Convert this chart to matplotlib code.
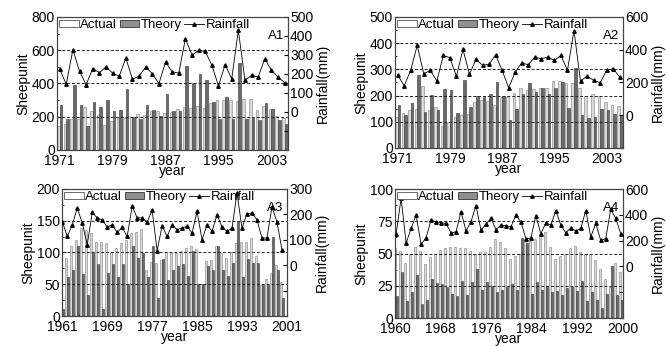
import matplotlib
matplotlib.use("Agg")
import matplotlib.pyplot as plt
import numpy as np
from matplotlib.ticker import MultipleLocator, FuncFormatter
from matplotlib.lines import Line2D
from matplotlib.patches import Patch

plt.rcParams['font.family'] = ['Liberation Sans', 'DejaVu Sans']
plt.rcParams['font.size'] = 9

# ---- A1 (1971-2005) ----
years_a1 = list(range(1971, 2006))
actual_a1 = [142, 155, 185, 185, 261, 232, 213, 150, 175, 193, 193, 201, 217, 210, 232, 232, 225, 230,
             245, 261, 250, 265, 255, 280, 300, 300, 300, 293, 305, 305, 241, 263, 245, 205, 195]
theory_a1 = [269, 185, 393, 269, 144, 289, 261, 300, 232, 241, 368, 201, 189, 269, 240, 205, 335, 235,
             232, 505, 403, 459, 419, 288, 185, 320, 185, 523, 185, 190, 180, 281, 245, 180, 155]
rain_a1 = [225, 146, 328, 214, 144, 228, 207, 237, 205, 188, 284, 172, 189, 237, 202, 149, 263, 211,
           205, 386, 298, 325, 319, 246, 137, 249, 175, 430, 167, 193, 184, 281, 219, 184, 154]

# ---- A2 (1971-2005) ----
years_a2 = list(range(1971, 2006))
actual_a2 = [120, 132, 145, 150, 235, 145, 155, 85, 100, 120, 125, 130, 175, 185, 180, 165, 195, 195,
             210, 228, 222, 225, 230, 228, 255, 255, 248, 248, 228, 200, 205, 200, 175, 165, 160]
theory_a2 = [163, 126, 170, 280, 136, 203, 145, 225, 220, 135, 260, 155, 200, 195, 205, 250, 200, 105,
             148, 205, 248, 215, 228, 205, 230, 252, 152, 305, 125, 115, 120, 150, 145, 130, 125]
rain_a2 = [247, 179, 274, 426, 253, 274, 209, 365, 351, 238, 402, 250, 341, 305, 311, 369, 274, 167,
           264, 320, 308, 355, 345, 355, 335, 365, 274, 517, 207, 240, 213, 199, 274, 284, 233]

# ---- A3 (1961-2001 axis) ----
actual_a3 = [94, 91, 110, 120, 138, 136, 130, 117, 117, 115, 99, 107, 115, 120, 130, 133, 137, 72, 85,
             83, 88, 101, 99, 99, 103, 107, 110, 105, 50, 86, 88, 110, 99, 91, 101, 115, 116, 117, 123,
             94, 49, 58, 67, 80, 53]
theory_a3 = [11, 61, 73, 110, 66, 33, 100, 82, 11, 67, 82, 62, 82, 50, 110, 91, 99, 62, 110,
             28, 89, 57, 73, 78, 82, 63, 102, 50, 50, 78, 73, 110, 73, 63, 83, 149, 62, 89, 83,
             83, 49, 49, 125, 73, 28]
rain_a3 = [172, 113, 159, 225, 166, 80, 208, 186, 179, 150, 159, 129, 149, 113, 232, 186, 186, 170, 216,
           57, 155, 113, 159, 140, 146, 153, 126, 212, 100, 159, 133, 199, 150, 133, 146, 284, 146, 203,
           205, 179, 107, 107, 229, 172, 61]

# ---- A4 (1960-2000 axis) ----
actual_a4 = [54, 52, 43, 50, 55, 52, 42, 47, 50, 53, 54, 55, 55, 54, 54, 52, 50, 51, 51, 55, 61, 59,
             54, 46, 48, 50, 61, 60, 61, 65, 67, 55, 46, 48, 50, 54, 56, 51, 50, 50, 45, 38, 30, 24,
             43, 36]
theory_a4 = [17, 36, 13, 20, 33, 11, 14, 30, 27, 26, 24, 19, 17, 29, 18, 28, 38, 22, 28, 25, 20, 22,
             24, 26, 22, 62, 58, 19, 28, 22, 24, 20, 21, 18, 23, 24, 21, 29, 13, 20, 14, 8, 19, 40,
             18, 14]
rain_a4 = [254, 529, 181, 294, 398, 171, 223, 359, 346, 338, 333, 260, 268, 425, 275, 346, 472, 281,
           328, 372, 286, 320, 315, 307, 398, 346, 215, 220, 393, 254, 338, 320, 433, 320, 260, 299,
           275, 294, 433, 228, 333, 202, 215, 443, 372, 254]

LIGHT = '#d9d9d9'
DARK = '#6a6a6a'

fig = plt.figure(figsize=(6.66, 3.46), dpi=100)


def panel(rect, x, bw, actual, theory, rain, ylim, ystep, rlim, rstep, xlim, xticks, tag):
    ax = fig.add_axes(rect)
    x = np.asarray(x, dtype=float)
    ax.bar(x - bw / 2, actual, width=bw, color=LIGHT, edgecolor='#808080', linewidth=0.4, zorder=2)
    ax.bar(x + bw / 2, theory, width=bw, color=DARK, edgecolor='#333333', linewidth=0.4, zorder=2)
    for g in np.arange(ystep, ylim[1], ystep):
        ax.axhline(g, color='#222222', ls=(0, (3, 2)), lw=0.7, zorder=3)
    ax.set_xlim(*xlim)
    ax.set_ylim(*ylim)
    ax.yaxis.set_major_locator(MultipleLocator(ystep))
    ax.yaxis.set_minor_locator(MultipleLocator(ystep / 2))
    ax.set_xticks(xticks)
    ax.set_xticklabels([str(t) for t in xticks])
    ax.xaxis.set_minor_locator(MultipleLocator(4))
    ax.tick_params(direction='in', length=3, labelsize=10, pad=1.5)
    ax.tick_params(axis='x', pad=3)
    ax.tick_params(which='minor', direction='in', length=1.5)
    ax.set_ylabel('Sheepunit', fontsize=10, labelpad=1)
    ax.set_xlabel('year', fontsize=10, labelpad=-3)

    ax2 = ax.twinx()
    ax2.plot(x, rain, color='black', lw=0.6, marker='^', ms=2.5, zorder=4)
    ax2.set_ylim(*rlim)
    ax2.yaxis.set_major_locator(MultipleLocator(rstep))
    ax2.yaxis.set_major_formatter(FuncFormatter(lambda v, p: '' if v < 0 else '%d' % v))
    ax2.tick_params(direction='in', length=3, labelsize=10, pad=1.5)
    ax2.set_ylabel('Rainfall(mm)', fontsize=10, labelpad=2)

    handles = [Patch(facecolor='white', edgecolor='#555555', linewidth=0.6),
               Patch(facecolor='#8f8f8f', edgecolor='#333333', linewidth=0.6),
               Line2D([], [], color='black', lw=0.6, marker='^', ms=2.5)]
    ax2.legend(handles, ['Actual', 'Theory', 'Rainfall'], loc='upper left', ncol=3, frameon=False,
               fontsize=9.5, handlelength=1.5, handleheight=0.4, handletextpad=0.1,
               columnspacing=0.2, borderaxespad=0.05, borderpad=0.1)
    ax2.text(0.985, 0.9, tag, transform=ax2.transAxes, ha='right', va='top', fontsize=9.5)
    for a in (ax, ax2):
        for s in a.spines.values():
            s.set_color('#444444')
            s.set_linewidth(0.8)
    return ax, ax2


# bottom panels: points evenly spread along the labelled axis
x_a3 = np.linspace(1961.05, 2000.1, len(rain_a3))
x_a4 = np.linspace(1960.2, 1999.6, len(rain_a4))

panel([0.0856, 0.5665, 0.3468, 0.3844], years_a1, 0.4, actual_a1, theory_a1, rain_a1,
      (0, 800), 200, (-200, 500), 100, (1970.6, 2005.5), [1971, 1979, 1987, 1995, 2003], 'A1')
panel([0.5931, 0.5723, 0.3423, 0.3786], years_a2, 0.4, actual_a2, theory_a2, rain_a2,
      (0, 500), 100, (-200, 600), 200, (1970.6, 2005.5), [1971, 1979, 1987, 1995, 2003], 'A2')
panel([0.0931, 0.0867, 0.3378, 0.3671], x_a3, 0.36, actual_a3, theory_a3, rain_a3,
      (0, 200), 50, (-200, 300), 100, (1961, 2001), [1961, 1969, 1977, 1985, 1993, 2001], 'A3')
panel([0.5931, 0.0809, 0.3423, 0.3728], x_a4, 0.36, actual_a4, theory_a4, rain_a4,
      (0, 100), 25, (-400, 600), 200, (1960, 2000), [1960, 1968, 1976, 1984, 1992, 2000], 'A4')

fig.savefig('out.png', dpi=100)
